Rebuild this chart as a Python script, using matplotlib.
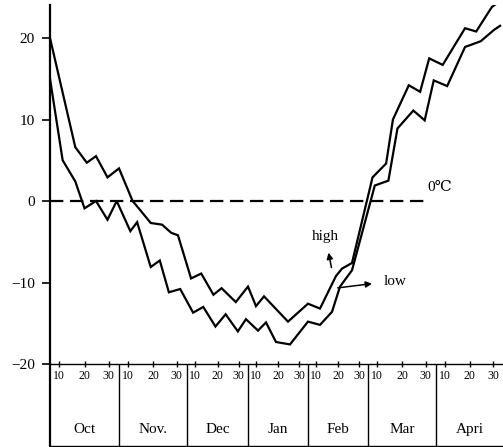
import matplotlib
matplotlib.use("Agg")
import matplotlib.pyplot as plt
import numpy as np

# day of season (30-day months starting 1 Oct) and temperature
high_day = [0, 11, 16, 20, 25, 30, 36, 39, 44, 49, 53, 56, 62, 67, 73, 77, 84, 90,
            94, 98, 110, 120, 126, 134, 137, 142, 152, 158, 161, 168, 173, 177,
            183, 193, 198, 205, 209]
high_val = [20, 6.6, 4.7, 5.5, 2.9, 4.0, 0, -1.0, -2.7, -2.9, -3.9, -4.2, -9.5, -8.9,
            -11.5, -10.7, -12.4, -10.5, -12.9, -11.7, -14.8, -12.6, -13.2, -9.2, -8.3,
            -7.6, 2.9, 4.6, 10.0, 14.2, 13.4, 17.5, 16.7, 21.2, 20.8, 23.8, 24.6]

low_day = [0, 5.5, 11, 15, 20, 25, 29, 35, 38, 44, 48, 52, 57, 63, 68, 74, 79, 85,
           89, 95, 99, 104, 111, 120, 126, 132, 136, 142, 153, 159, 163, 170, 175,
           179, 185, 193, 200, 206, 208.7]
low_val = [15, 5.0, 2.4, -0.9, 0, -2.3, 0, -3.7, -2.6, -8.1, -7.3, -11.2, -10.8, -13.7,
           -13.0, -15.4, -13.9, -16.0, -14.5, -15.9, -14.9, -17.3, -17.6, -14.8, -15.2,
           -13.6, -10.5, -8.5, 1.9, 2.5, 8.9, 11.1, 9.9, 14.8, 14.1, 18.9, 19.6, 21.0, 21.5]

months = ["Oct", "Nov.", "Dec", "Jan", "Feb", "Mar", "Apri"]
dekad_labels = ["10", "20", "30"]
y_ticks = [-20, -10, 0, 10, 20]

# the hand-drawn month columns are not all the same width
month_width = [69, 68, 61, 60, 60, 68, 67]
day_edges = np.arange(len(months) + 1) * 30.0
width_edges = np.concatenate([[0], np.cumsum(month_width)]).astype(float)


def fwd(d):
    return np.interp(d, day_edges, width_edges)


def inv(w):
    return np.interp(w, width_edges, day_edges)


plt.rcParams['font.family'] = ['Liberation Serif', 'DejaVu Serif', 'DejaVu Sans']

fig = plt.figure(figsize=(5.03, 4.47), dpi=100)
W, H = 503, 447
ax = fig.add_axes([50 / W, 83 / H, 453 / W, 359 / H])
ax.set_xscale('function', functions=(fwd, inv))
ax.set_xlim(0, 210)
ax.set_ylim(-20, 24.05)

ax.plot(high_day, high_val, color='black', lw=1.6, solid_joinstyle='miter')
ax.plot(low_day, low_val, color='black', lw=1.6, solid_joinstyle='miter')

# 0 degree reference line
ax.hlines(0, 0, 175, colors='black', linestyles=(0, (6, 3)), lw=1.6)
ax.text(176, 0.8, "0℃", fontsize=11, ha='left', va='bottom')

# labels with arrows
ax.text(128.5, -4.3, "high", fontsize=11, ha='center', va='center')
ax.annotate('', xy=(130, -6.0), xytext=(132, -8.5),
            arrowprops=dict(arrowstyle='-|>', color='black', lw=1.1, mutation_scale=9))
ax.text(157, -9.9, "low", fontsize=11, ha='left', va='center')
ax.annotate('', xy=(153, -10.1), xytext=(133.5, -10.7),
            arrowprops=dict(arrowstyle='-|>', color='black', lw=1.1, mutation_scale=9))

ax.spines['top'].set_visible(False)
ax.spines['right'].set_visible(False)
ax.spines['left'].set_linewidth(1.6)
ax.spines['bottom'].set_linewidth(1.0)

ax.set_yticks(y_ticks)
ax.set_yticklabels([str(v).replace('-', '\u2212') for v in y_ticks])
ax.tick_params(axis='y', direction='out', length=6, width=1.2, pad=5, labelsize=11)

xt, xl = [], []
for i in range(len(months)):
    for j, lab in enumerate(dekad_labels):
        xt.append(i * 30 + [4, 15, 25.5][j])
        xl.append(lab)
ax.set_xticks(xt)
ax.set_xticklabels(xl)
ax.xaxis.set_minor_locator(plt.NullLocator())
ax.tick_params(axis='x', direction='inout', length=5, width=1.0, pad=2, labelsize=8.5)

# month table under the axis
tab = fig.add_axes([50 / W, 1 / H, 453 / W, 82 / H])
tab.set_xscale('function', functions=(fwd, inv))
tab.set_xlim(0, 210)
tab.set_ylim(0, 1)
tab.set_xticks([])
tab.xaxis.set_minor_locator(plt.NullLocator())
tab.set_yticks([])
tab.patch.set_visible(False)
tab.spines['top'].set_visible(False)
tab.spines['right'].set_visible(False)
tab.spines['left'].set_linewidth(1.6)
tab.spines['bottom'].set_linewidth(1.0)
tab.vlines(day_edges[1:-1], 0, 1, colors='black', lw=1.0)
for i, m in enumerate(months):
    tab.text(i * 30 + 15, 0.2, m, fontsize=11, ha='center', va='center')

fig.savefig("out.png", dpi=100)
